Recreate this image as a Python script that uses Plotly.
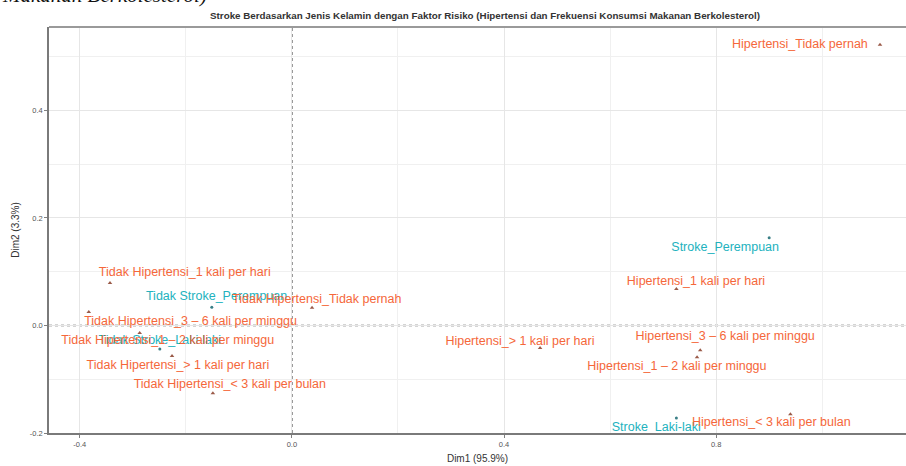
import plotly.graph_objects as go

# Row categories (Stroke x jenis kelamin)
row_names = ["Stroke_Perempuan", "Stroke_Laki-laki",
             "Tidak Stroke_Perempuan", "Tidak Stroke_Laki-laki"]
row_dim1 = [0.900, 0.725, -0.151, -0.249]
row_dim2 = [0.163, -0.172, 0.034, -0.044]

# Column categories (Hipertensi x frekuensi konsumsi)
col_names = ["Hipertensi_Tidak pernah", "Hipertensi_1 kali per hari",
             "Hipertensi_> 1 kali per hari", "Hipertensi_3 – 6 kali per minggu",
             "Hipertensi_1 – 2 kali per minggu", "Hipertensi_< 3 kali per bulan",
             "Tidak Hipertensi_1 kali per hari", "Tidak Hipertensi_Tidak pernah",
             "Tidak Hipertensi_3 – 6 kali per minggu", "Tidak Hipertensi_1 – 2 kali per minggu",
             "Tidak Hipertensi_> 1 kali per hari", "Tidak Hipertensi_< 3 kali per bulan"]
col_dim1 = [1.109, 0.725, 0.468, 0.770, 0.764, 0.940,
            -0.343, 0.038, -0.383, -0.287, -0.226, -0.149]
col_dim2 = [0.522, 0.068, -0.042, -0.046, -0.059, -0.165,
            0.079, 0.033, 0.025, -0.014, -0.057, -0.126]

# Repelled label anchors (data units)
row_lab_x = [0.817, 0.687, -0.142, -0.249]
row_lab_y = [0.144, -0.191, 0.053, -0.029]
col_lab_x = [0.958, 0.762, 0.430, 0.817, 0.726, 0.904,
             -0.202, 0.047, -0.191, -0.234, -0.215, -0.117]
col_lab_y = [0.522, 0.081, -0.031, -0.021, -0.077, -0.181,
             0.098, 0.047, 0.0065, -0.029, -0.075, -0.111]

x_ticks = [-0.4, 0.0, 0.4, 0.8]
y_ticks = [-0.2, 0.0, 0.2, 0.4]

ROW_COL = "#22B2BE"
COL_COL = "#F5673A"
FONT = "Liberation Sans, Arial, sans-serif"

fig = go.Figure()

fig.add_trace(go.Scatter(x=row_dim1, y=row_dim2, mode="markers",
                         marker=dict(symbol="circle", size=3, color="#3a7f86"),
                         hoverinfo="skip", showlegend=False))
fig.add_trace(go.Scatter(x=col_dim1, y=col_dim2, mode="markers",
                         marker=dict(symbol="triangle-up", size=4, color="#9a5a48"),
                         hoverinfo="skip", showlegend=False))
fig.add_trace(go.Scatter(x=row_lab_x, y=row_lab_y, mode="text", text=row_names,
                         textfont=dict(family=FONT, size=12.5, color=ROW_COL),
                         hoverinfo="skip", showlegend=False, cliponaxis=False))
fig.add_trace(go.Scatter(x=col_lab_x, y=col_lab_y, mode="text", text=col_names,
                         textfont=dict(family=FONT, size=12.5, color=COL_COL),
                         hoverinfo="skip", showlegend=False, cliponaxis=False))

# Dashed reference lines through the origin
fig.add_hline(y=0, line=dict(color="#555555", width=1.4, dash="3px,3px"), layer="below")
fig.add_vline(x=0, line=dict(color="#555555", width=1.4, dash="3px,3px"), layer="below")

# Top border of the panel
fig.add_shape(type="line", xref="paper", yref="paper", x0=0, x1=1.05, y0=1, y1=1,
              line=dict(color="#9a9a9a", width=2))

axis_common = dict(
    showline=True, linecolor="#7a7a7a", linewidth=1.5,
    ticks="outside", ticklen=3, tickcolor="#808080", tickwidth=1,
    tickfont=dict(family=FONT, size=7.5, color="#555555"),
    showgrid=True, gridcolor="#e6e6e6", gridwidth=1,
    zeroline=False,
)

fig.update_xaxes(range=[-0.458, 1.158], tickvals=x_ticks,
                 ticktext=[f"{v:.1f}" for v in x_ticks],
                 minor=dict(showgrid=True, gridcolor="#f0f0f0", gridwidth=0.7,
                            tickvals=[-0.2, 0.2, 0.6, 1.0]),
                 title=dict(text="Dim1 (95.9%)", font=dict(family=FONT, size=10, color="#333333"),
                            standoff=7),
                 **axis_common)
fig.update_yaxes(range=[-0.2, 0.555], tickvals=y_ticks,
                 ticktext=[f"{v:.1f}" for v in y_ticks],
                 minor=dict(showgrid=True, gridcolor="#f0f0f0", gridwidth=0.7,
                            tickvals=[-0.1, 0.1, 0.3, 0.5]),
                 title=dict(text="Dim2 (3.3%)", font=dict(family=FONT, size=10, color="#333333"),
                            standoff=8),
                 **axis_common)

fig.update_layout(
    width=906, height=466,
    margin=dict(l=49, r=0, t=27, b=33),
    paper_bgcolor="white", plot_bgcolor="white",
    title=dict(text="<b>Stroke Berdasarkan Jenis Kelamin dengan Faktor Risiko (Hipertensi dan Frekuensi Konsumsi Makanan Berkolesterol)</b>",
               x=485 / 906, xanchor="center", y=1 - 16 / 466, yanchor="middle",
               font=dict(family=FONT, size=9.8, color="#333333")),
    annotations=[dict(text="<i>Makanan Berkolesterol)</i>", xref="paper", yref="paper",
                      x=-49 / 857, xanchor="left", y=1 + (27 - 9) / 406, yanchor="bottom",
                      showarrow=False,
                      font=dict(family="Liberation Serif, Times New Roman, serif", size=21,
                                color="#111111"))],
)

fig.write_html("out.html")
